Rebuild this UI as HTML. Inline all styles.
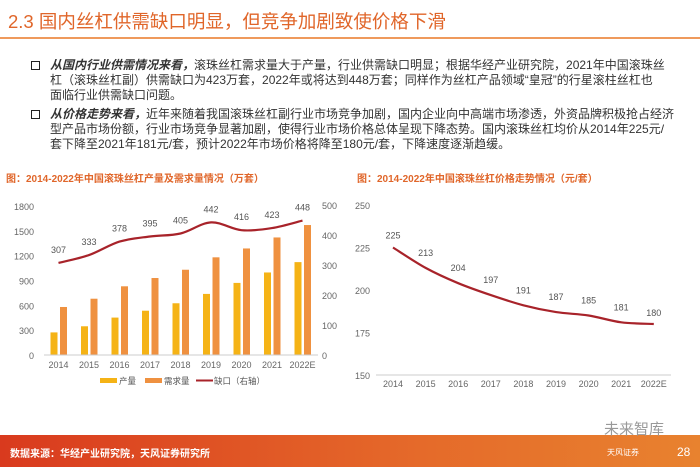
<!DOCTYPE html>
<html><head><meta charset="utf-8">
<style>
body{margin:0;width:700px;height:467px;background:#fff;font-family:"Liberation Sans","Noto Sans CJK SC",sans-serif;position:relative;overflow:hidden}
.abs{position:absolute}
.t{white-space:nowrap}
.p{font-size:12px;color:#333;line-height:14.8px;left:50px;white-space:nowrap}
.p b{font-style:italic}
.sq{width:7px;height:7px;border:1.5px solid #222;left:31px}
</style></head><body>
<div class="abs t" style="left:8px;top:8px;font-size:18.5px;color:#e0662a">2.3 国内丝杠供需缺口明显，但竞争加剧致使价格下滑</div>
<div class="abs" style="left:0;top:37px;width:700px;height:2px;background:#ef9a5c"></div>
<div class="abs sq" style="top:61px"></div>
<div class="abs p" style="top:58px"><b>从国内行业供需情况来看，</b>滚珠丝杠需求量大于产量，行业供需缺口明显；根据华经产业研究院，2021年中国滚珠丝<br>杠（滚珠丝杠副）供需缺口为423万套，2022年或将达到448万套；同样作为丝杠产品领域“皇冠”的行星滚柱丝杠也<br>面临行业供需缺口问题。</div>
<div class="abs sq" style="top:110px"></div>
<div class="abs p" style="top:107px"><b>从价格走势来看，</b>近年来随着我国滚珠丝杠副行业市场竞争加剧，国内企业向中高端市场渗透，外资品牌积极抢占经济<br>型产品市场份额，行业市场竞争显著加剧，使得行业市场价格总体呈现下降态势。国内滚珠丝杠均价从2014年225元/<br>套下降至2021年181元/套，预计2022年市场价格将降至180元/套，下降速度逐渐趋缓。</div>
<div class="abs t" style="left:6px;top:170px;font-size:10px;font-weight:bold;color:#e0662a">图：2014-2022年中国滚珠丝杠产量及需求量情况（万套）</div>
<div class="abs t" style="left:357px;top:170px;font-size:10px;font-weight:bold;color:#e0662a">图：2014-2022年中国滚珠丝杠价格走势情况（元/套）</div>
<svg class="abs" style="left:0;top:0" width="700" height="467" id="svg"></svg>
<div class="abs" style="left:0;top:435px;width:700px;height:32px;background:linear-gradient(90deg,#d93a1e,#e56a2a 60%,#e8822f)"></div>
<div class="abs t" style="left:10px;top:445px;font-size:10px;color:#fff;font-weight:bold">数据来源：华经产业研究院，天风证券研究所</div>
<div class="abs t" style="left:604px;top:418px;font-size:15px;color:#999">未来智库</div>
<div class="abs t" style="left:607px;top:447px;font-size:8px;color:#fff">天风证券</div>
<div class="abs t" style="left:677px;top:445px;font-size:12px;color:#fff">28</div>
<script>
const years=["2014","2015","2016","2017","2018","2019","2020","2021","2022E"];
const production=[273,347,452,535,625,738,871,997,1122];
const demand=[580,680,830,930,1030,1180,1287,1420,1570];
const gap=[307,333,378,395,405,442,416,423,448];
const price=[225,213,204,197,191,187,185,181,180];
const leftTicks=[0,300,600,900,1200,1500,1800];
const rightTicks=[0,100,200,300,400,500];
const priceTicks=[150,175,200,225,250];
const svg=document.getElementById('svg');
const NS='http://www.w3.org/2000/svg';
function mk(tag,at,txt){const e=document.createElementNS(NS,tag);for(const k in at)e.setAttribute(k,at[k]);if(txt!==undefined)e.textContent=txt;svg.appendChild(e);return e;}
function smooth(pts){let d=`M${pts[0][0]},${pts[0][1]}`;for(let i=0;i<pts.length-1;i++){const p0=pts[i-1]||pts[i],p1=pts[i],p2=pts[i+1],p3=pts[i+2]||p2;const c1x=p1[0]+(p2[0]-p0[0])/6,c1y=p1[1]+(p2[1]-p0[1])/6,c2x=p2[0]-(p3[0]-p1[0])/6,c2y=p2[1]-(p3[1]-p1[1])/6;d+=` C${c1x},${c1y} ${c2x},${c2y} ${p2[0]},${p2[1]}`;}return d;}
const lx=i=>58.5+i*30.5, ly=v=>355-v/1800*149, ry=v=>355-v/500*150;
leftTicks.forEach(t=>{const e=mk('text',{x:34,y:ly(t)+4,'text-anchor':'end','font-size':9,fill:'#666'},t);});
rightTicks.forEach(t=>{const e=mk('text',{x:322,y:ry(t)+4,'font-size':9,fill:'#666'},t);});
years.forEach((y,i)=>{
 const b1=mk('rect',{x:lx(i)-8,y:ly(production[i]),width:7,height:355-ly(production[i]),fill:'#f5b316'});
 
 const b2=mk('rect',{x:lx(i)+1.5,y:ly(demand[i]),width:7,height:355-ly(demand[i]),fill:'#ef9140'});
 
 const t=mk('text',{x:lx(i),y:368,'text-anchor':'middle','font-size':9,fill:'#666'},y);
 
 const g=mk('text',{x:lx(i),y:ry(gap[i])-10,'text-anchor':'middle','font-size':9,fill:'#555'},gap[i]);
 
});
const la=mk('line',{x1:44,x2:318,y1:355,y2:355,stroke:'#ccc'});
const gl=mk('path',{d:smooth(gap.map((v,i)=>[lx(i),ry(v)])),fill:'none',stroke:'#a8232a','stroke-width':2.2});

[[100,'#f5b316','产量'],[145,'#ef9140','需求量']].forEach(([x,c,s])=>{const r=mk('rect',{x:x,y:378,width:17,height:5,fill:c});const t=mk('text',{x:x+19,y:384,'font-size':8.5,fill:'#555'},s);});
const ll=mk('line',{x1:196,x2:213,y1:380.5,y2:380.5,stroke:'#a8232a','stroke-width':2});
const lt=mk('text',{x:214,y:384,'font-size':8.5,fill:'#555'},'缺口（右轴）');
const px=i=>393+i*32.6, py=v=>375-(v-150)/100*170;
priceTicks.forEach(t=>{const e=mk('text',{x:370,y:py(t)+4,'text-anchor':'end','font-size':9,fill:'#666'},t);});
const pa=mk('line',{x1:376,x2:671,y1:375,y2:375,stroke:'#ccc'});
years.forEach((y,i)=>{
 const t=mk('text',{x:px(i),y:387,'text-anchor':'middle','font-size':9,fill:'#666'},y);
 const l=mk('text',{x:px(i),y:py(price[i])-(i==0?9:i==8?8:12),'text-anchor':'middle','font-size':9,fill:'#555'},price[i]);
});
const pl=mk('path',{d:smooth(price.map((v,i)=>[px(i),py(v)])),fill:'none',stroke:'#a8232a','stroke-width':2.2});

</script>
</body></html>
